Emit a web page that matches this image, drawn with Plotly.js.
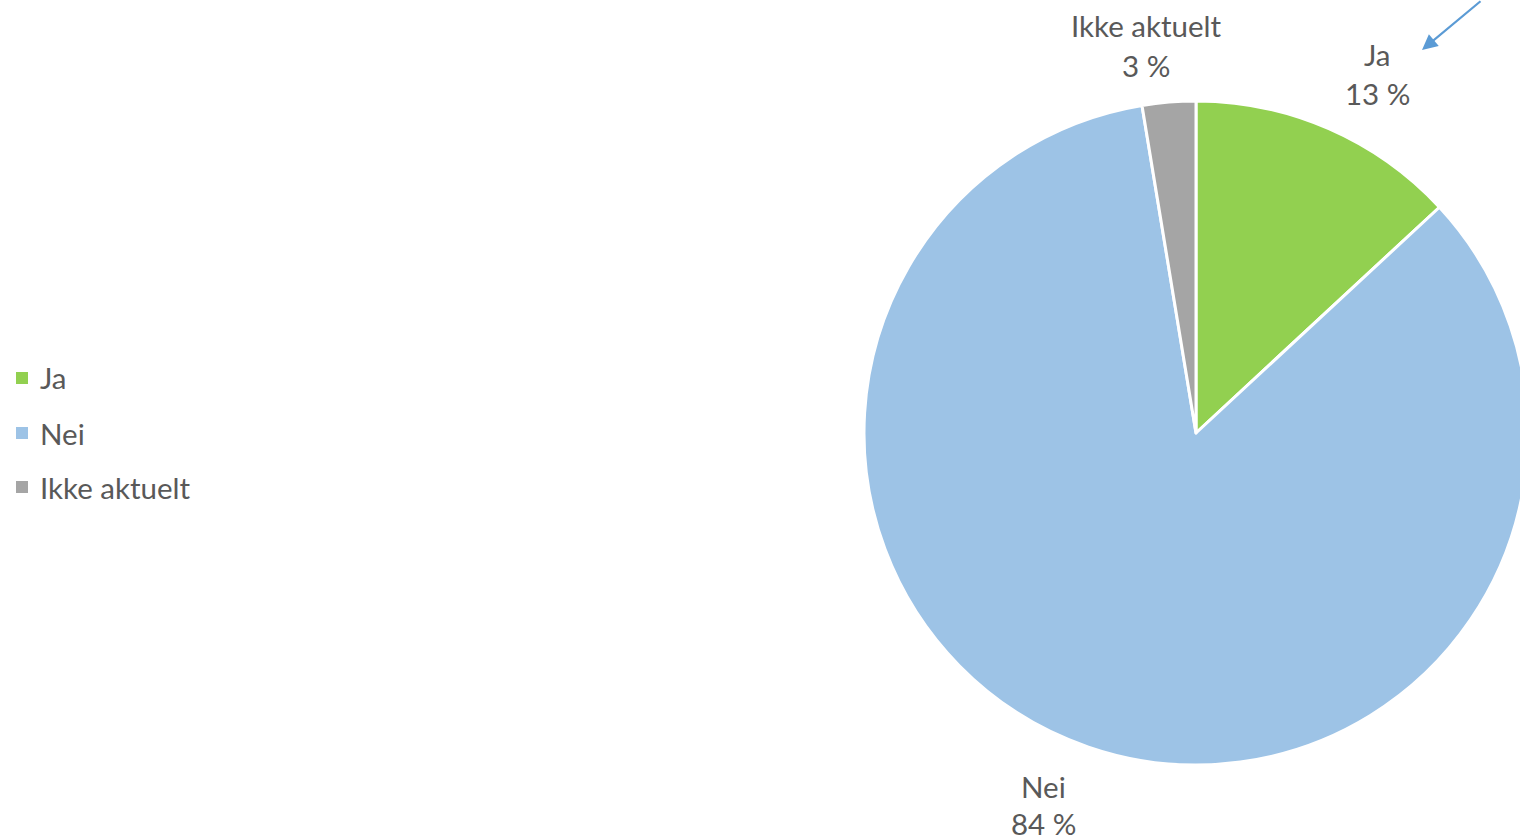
<!DOCTYPE html>
<html>
<head>
<meta charset="utf-8">
<script src="https://cdn.plot.ly/plotly-3.0.1.min.js"></script>
<style>
html,body{margin:0;padding:0;overflow:hidden;background:#fff;width:1520px;height:838px;}
#chart{width:1560px;height:838px;}
</style>
</head>
<body>
<div id="chart"></div>
<script>
// Data
const labels = ["Ja", "Nei", "Ikke aktuelt"];
const values = [13.1, 84.3, 2.6];
const colors = ["#92D050", "#9DC3E6", "#A5A5A5"];

// Layout helpers (positions in pixels)
const W = 1560, H = 838;
const FONT = "Lato, 'Open Sans', sans-serif";
const FS = 29.5;
const TXT = "#595959";
const labelPos = [[1377, 54, 93], [1043, 786, 823], [1146, 26, 65]]; // x, y name, y pct
const legendY = [378, 433, 487];

const px = x => x / W;
const py = y => 1 - y / H;

const total = values.reduce((a, b) => a + b, 0);
const annotations = [];
const shapes = [];
labels.forEach((lab, i) => {
  const pct = Math.round(values[i] / total * 100) + " %";
  annotations.push({x: px(labelPos[i][0]), y: py(labelPos[i][1]), xref: "paper", yref: "paper",
    text: lab, showarrow: false, xanchor: "center", yanchor: "middle",
    font: {family: FONT, size: FS, color: TXT}});
  annotations.push({x: px(labelPos[i][0]), y: py(labelPos[i][2]), xref: "paper", yref: "paper",
    text: pct, showarrow: false, xanchor: "center", yanchor: "middle",
    font: {family: FONT, size: FS, color: TXT}});
  // legend entry
  annotations.push({x: px(38), y: py(legendY[i]), xref: "paper", yref: "paper",
    text: lab, showarrow: false, xanchor: "left", yanchor: "middle",
    font: {family: FONT, size: FS, color: TXT}});
  shapes.push({type: "rect", xref: "paper", yref: "paper",
    x0: px(16), x1: px(28), y0: py(legendY[i] - 6), y1: py(legendY[i] + 6),
    fillcolor: colors[i], line: {width: 0}});
});
// arrow
annotations.push({x: px(1422), y: py(50), xref: "paper", yref: "paper",
  ax: 60, ay: -66, axref: "pixel", ayref: "pixel",
  text: "", showarrow: true, arrowhead: 2, arrowsize: 1.4, arrowwidth: 2.2, arrowcolor: "#5B9BD5"});

const trace = {
  type: "pie",
  labels: labels,
  values: values,
  sort: false,
  direction: "clockwise",
  rotation: 0,
  textinfo: "none",
  hoverinfo: "label+percent",
  marker: {colors: colors, line: {color: "#ffffff", width: 3}},
  domain: {x: [px(1196 - 332), px(1196 + 332)], y: [py(765), py(101)]},
  showlegend: false
};

const layout = {
  width: W, height: H,
  margin: {l: 0, r: 0, t: 0, b: 0},
  paper_bgcolor: "#ffffff",
  showlegend: false,
  annotations: annotations,
  shapes: shapes
};

Plotly.newPlot("chart", [trace], layout, {displayModeBar: false, staticPlot: true});
</script>
</body>
</html>
